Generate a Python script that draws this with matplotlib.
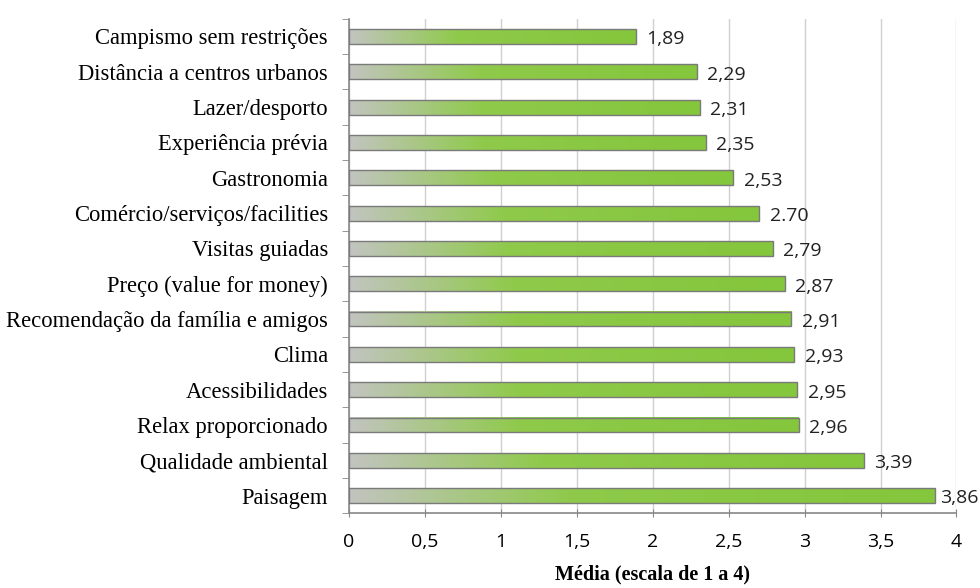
import numpy as np
import matplotlib
matplotlib.use("Agg")
import matplotlib.pyplot as plt
from matplotlib.colors import LinearSegmentedColormap
from matplotlib.patches import Rectangle

# DADOS
categorias = [
    "Campismo sem restrições",
    "Distância a centros urbanos",
    "Lazer/desporto",
    "Experiência prévia",
    "Gastronomia",
    "Comércio/serviços/facilities",
    "Visitas guiadas",
    "Preço (value for money)",
    "Recomendação da família e amigos",
    "Clima",
    "Acessibilidades",
    "Relax proporcionado",
    "Qualidade ambiental",
    "Paisagem",
]
medias = [1.89, 2.29, 2.31, 2.35, 2.53, 2.70, 2.79, 2.87, 2.91, 2.93, 2.95, 2.96, 3.39, 3.86]
rotulos = ["1,89", "2,29", "2,31", "2,35", "2,53", "2.70", "2,79", "2,87",
           "2,91", "2,93", "2,95", "2,96", "3,39", "3,86"]
ticks_x = [0, 0.5, 1, 1.5, 2, 2.5, 3, 3.5, 4]
ticks_x_lbl = ["0", "0,5", "1", "1,5", "2", "2,5", "3", "3,5", "4"]

# FIGURA
fig = plt.figure(figsize=(9.8, 5.88), dpi=100)
ax = fig.add_axes([0.356, 0.127, 0.62, 0.841])

cmap = LinearSegmentedColormap.from_list(
    "grad", [(0, "#c2c4c0"), (0.38, "#8fca4a"), (1, "#84c63c")])
grad = np.linspace(0, 1, 256).reshape(1, -1)

n = len(categorias)
altura = 0.42
for i, (v, lbl) in enumerate(zip(medias, rotulos)):
    y = n - 1 - i
    ax.imshow(grad, cmap=cmap, aspect="auto", interpolation="bilinear",
              extent=(0, v, y - altura / 2, y + altura / 2), zorder=2)
    ax.add_patch(Rectangle((0, y - altura / 2), v, altura, fill=False,
                           edgecolor="#7a7a7a", linewidth=1.0, zorder=3))
    dx = 0.03 if v > 3.8 else 0.07
    ax.text(v + dx, y - 0.08, lbl, va="center", ha="left",
            fontsize=14, family="Open Sans", color="#222222", clip_on=False)

ax.set_xlim(0, 4)
ax.set_ylim(-0.5, n - 0.5)
ax.set_yticks(range(n))
ax.set_yticklabels(categorias[::-1], family="Liberation Serif", fontsize=16.3)
ax.set_yticks(np.arange(-0.5, n, 1), minor=True)
ax.tick_params(axis="y", which="major", length=0, pad=15)
ax.tick_params(axis="y", which="minor", length=5, color="#888888")

ax.set_xticks(ticks_x)
ax.set_xticklabels(ticks_x_lbl, family="Open Sans", fontsize=14)
ax.tick_params(axis="x", length=6, color="#888888", direction="inout", pad=11)

ax.grid(axis="x", color="#d0d0d0", linewidth=1, zorder=0)
ax.set_axisbelow(True)
for s in ["top", "right"]:
    ax.spines[s].set_visible(False)
ax.spines["left"].set_color("#888888")
ax.spines["bottom"].set_color("#888888")
ax.spines["left"].set_linewidth(1.2)
ax.spines["bottom"].set_linewidth(1.2)

ax.set_xlabel("Média (escala de 1 a 4)", family="Liberation Serif",
              fontweight="bold", fontsize=14.5, labelpad=10)

fig.savefig("out.png", dpi=100)
